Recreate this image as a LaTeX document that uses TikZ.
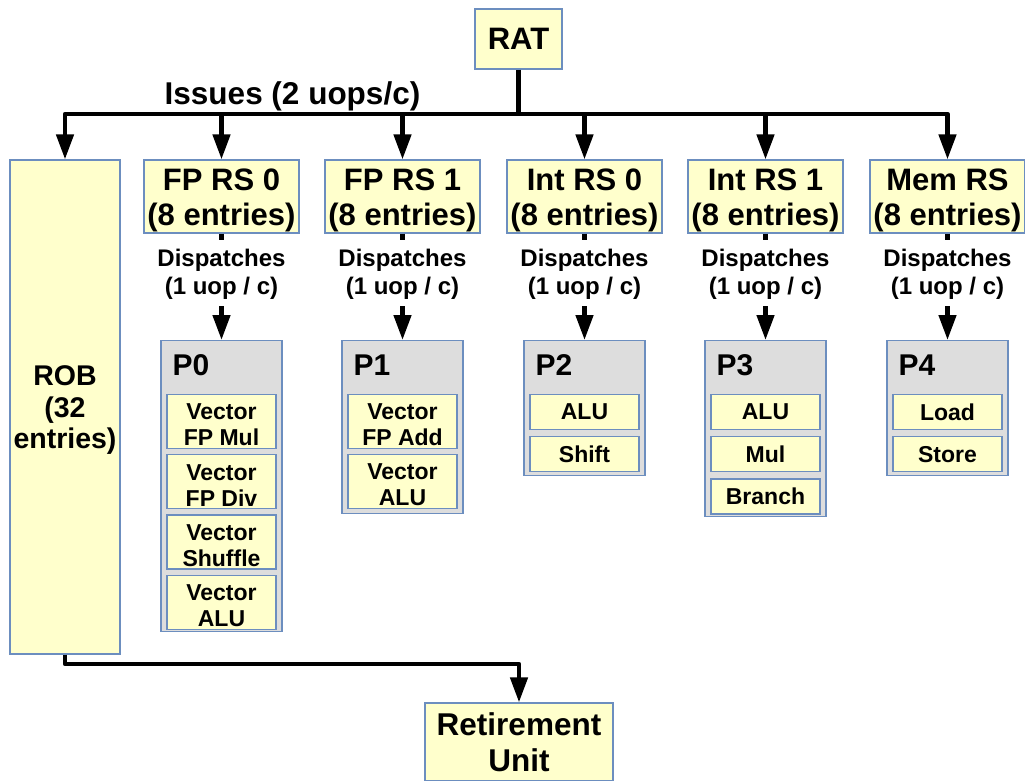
\documentclass[tikz,border=0pt]{standalone}
\usepackage{fontspec}
\setmainfont{Liberation Sans}
\usetikzlibrary{arrows.meta,positioning}
\definecolor{boxfill}{HTML}{FFFFCC}
\definecolor{boxline}{HTML}{6C8EBF}
\definecolor{portfill}{HTML}{DDDDDD}
% taller first line, to push two-line labels down a little
\newcommand{\topstrut}[1]{\rule{0pt}{#1}}

\begin{document}
\begin{tikzpicture}[x=1pt, y=1pt,
    box/.style={draw=boxline, line width=1.2pt, fill=boxfill, align=center,
        inner sep=0pt, font=\bfseries\fontsize{31}{35}\selectfont},
    rsbox/.style={box, minimum width=155pt, minimum height=73pt},
    port/.style={draw=boxline, line width=1.2pt, fill=portfill,
        minimum width=121pt, inner sep=0pt, anchor=north},
    plabel/.style={inner sep=0pt, font=\bfseries\fontsize{30}{30}\selectfont},
    unit/.style={draw=boxline, line width=1.2pt, fill=boxfill, align=center,
        minimum width=109pt, inner sep=0pt, font=\bfseries\fontsize{23}{26}\selectfont},
    unitone/.style={unit, minimum height=35pt},
    unittwo/.style={unit, minimum height=54pt},
    disp/.style={fill=white, align=center, inner xsep=2pt, inner ysep=6pt,
        font=\bfseries\fontsize{24}{28}\selectfont},
    wire/.style={line width=4.5pt, line join=round},
    arr/.style={wire, -{Triangle[length=25pt, width=17pt]}}]

    \useasboundingbox (0,0) rectangle (1025,-780);

    % Front end
    \node[box, minimum width=87pt, minimum height=60pt] (rat) at (518.5,-39) {RAT};
    \node[box, minimum width=110pt, minimum height=494pt,
        font=\bfseries\fontsize{28.5}{31.5}\selectfont] (rob) at (65,-407) {\topstrut{26.5pt}ROB\\(32\\entries)};

    % Reservation stations
    \node[rsbox] (rs0) at (221.5,-196.5) {\topstrut{30pt}FP RS 0\\(8 entries)};
    \node[rsbox] (rs1) at (402.5,-196.5) {\topstrut{30pt}FP RS 1\\(8 entries)};
    \node[rsbox] (rs2) at (584.5,-196.5) {\topstrut{30pt}Int RS 0\\(8 entries)};
    \node[rsbox] (rs3) at (765.5,-196.5) {\topstrut{30pt}Int RS 1\\(8 entries)};
    \node[rsbox] (rs4) at (947.5,-196.5) {\topstrut{30pt}Mem RS\\(8 entries)};

    % Issue bus
    \coordinate (bus) at (518.5,-114);
    \node[font=\bfseries\fontsize{31.5}{35}\selectfont, anchor=base] (issues) at (292.5,-104) {Issues (2 uops/c)};
    \draw[wire] (rat.south) -- (bus);
    \foreach \dest in {rob,rs0,rs1,rs2,rs3,rs4}
        \draw[arr] (bus) -| (\dest.north);

    % Ports
    \node[port, minimum height=291pt] (p0) at (221.5,-340) {};
    \node[plabel, below right=25pt and 12pt of p0.north west, anchor=west] (p0l) {P0};
    \node[unittwo, below=54pt of p0.north] (p0a) {\topstrut{22.5pt}Vector\\FP Mul};
    \node[unittwo, below=5pt of p0a] (p0b) {\topstrut{22.5pt}Vector\\FP Div};
    \node[unittwo, below=5pt of p0b] (p0c) {\topstrut{22.5pt}Vector\\Shuffle};
    \node[unittwo, below=5pt of p0c] (p0d) {\topstrut{22.5pt}Vector\\ALU};

    \node[port, minimum height=173pt] (p1) at (402.5,-340) {};
    \node[plabel, below right=25pt and 12pt of p1.north west, anchor=west] (p1l) {P1};
    \node[unittwo, below=54pt of p1.north] (p1a) {\topstrut{22.5pt}Vector\\FP Add};
    \node[unittwo, below=5pt of p1a] (p1b) {\topstrut{22.5pt}Vector\\ALU};

    \node[port, minimum height=135pt] (p2) at (584.5,-340) {};
    \node[plabel, below right=25pt and 12pt of p2.north west, anchor=west] (p2l) {P2};
    \node[unitone, below=54pt of p2.north] (p2a) {ALU};
    \node[unitone, below=6pt of p2a] (p2b) {Shift};

    \node[port, minimum height=176pt] (p3) at (765.5,-340) {};
    \node[plabel, below right=25pt and 12pt of p3.north west, anchor=west] (p3l) {P3};
    \node[unitone, below=54pt of p3.north] (p3a) {ALU};
    \node[unitone, below=6pt of p3a] (p3b) {Mul};
    \node[unitone, below=6pt of p3b] (p3c) {Branch};

    \node[port, minimum height=135pt] (p4) at (947.5,-340) {};
    \node[plabel, below right=25pt and 12pt of p4.north west, anchor=west] (p4l) {P4};
    \node[unitone, below=54pt of p4.north] (p4a) {Load};
    \node[unitone, below=6pt of p4a] (p4b) {Store};

    % Dispatch
    \foreach \i in {0,...,4}
        \draw[arr] (rs\i.south) -- (p\i.north)
            node[disp, pos=0.37] (d\i) {\topstrut{21pt}Dispatches\\(1 uop / c)};

    % Retirement
    \node[box, minimum width=188pt, minimum height=78pt,
        font=\bfseries\fontsize{31.5}{36}\selectfont] (ret) at (519,-742) {Retirement\\Unit};
    \coordinate (retbus) at (65,-664);
    \draw[arr] (rob.south) -- (retbus) -| (ret.north);

\end{tikzpicture}
\end{document}
